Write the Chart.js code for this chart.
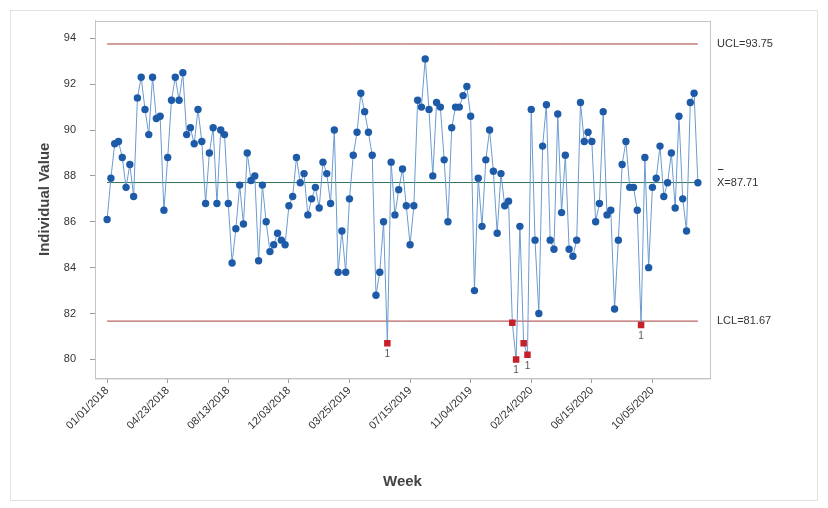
<!DOCTYPE html>
<html>
<head>
<meta charset="utf-8">
<script src="https://cdn.jsdelivr.net/npm/chart.js@4.4.1/dist/chart.umd.min.js"></script>
<style>
  html, body { margin: 0; padding: 0; background: #fff; }
  #wrap { width: 828px; height: 508px; }
</style>
</head>
<body>
<div id="wrap"><canvas id="myChart" width="828" height="508"></canvas></div>
<script>
// weekly individual values, week 0 = 01/01/2018
var weekValues = [
  86.1, 87.9, 89.4, 89.5, 88.8, 87.5, 88.5, 87.1, 91.4, 92.3,
  90.9, 89.8, 92.3, 90.5, 90.6, 86.5, 88.8, 91.3, 92.3, 91.3,
  92.5, 89.8, 90.1, 89.4, 90.9, 89.5, 86.8, 89.0, 90.1, 86.8,
  90.0, 89.8, 86.8, 84.2, 85.7, 87.6, 85.9, 89.0, 87.8, 88.0,
  84.3, 87.6, 86.0, 84.7, 85.0, 85.5, 85.2, 85.0, 86.7, 87.1,
  88.8, 87.7, 88.1, 86.3, 87.0, 87.5, 86.6, 88.6, 88.1, 86.8,
  90.0, 83.8, 85.6, 83.8, 87.0, 88.9, 89.9, 91.6, 90.8, 89.9,
  88.9, 82.8, 83.8, 86.0, 80.7, 88.6, 86.3, 87.4, 88.3, 86.7,
  85.0, 86.7, 91.3, 91.0, 93.1, 90.9, 88.0, 91.2, 91.0, 88.7,
  86.0, 90.1, 91.0, 91.0, 91.5, 91.9, 90.6, 83.0, 87.9, 85.8,
  88.7, 90.0, 88.2, 85.5, 88.1, 86.7, 86.9, 81.6, 80.0, 85.8,
  80.7, 80.2, 90.9, 85.2, 82.0, 89.3, 91.1, 85.2, 84.8, 90.7,
  86.4, 88.9, 84.8, 84.5, 85.2, 91.2, 89.5, 89.9, 89.5, 86.0,
  86.8, 90.8, 86.3, 86.5, 82.2, 85.2, 88.5, 89.5, 87.5, 87.5,
  86.5, 81.5, 88.8, 84.0, 87.5, 87.9, 89.3, 87.1, 87.7, 89.0,
  86.6, 90.6, 87.0, 85.6, 91.2, 91.6, 87.7
];

var ucl = 93.75;
var centerLine = 87.71;
var lcl = 81.67;

var tickWeeks = [0, 16, 32, 48, 64, 80, 96, 112, 128, 144];
var tickLabels = ['01/01/2018', '04/23/2018', '08/13/2018', '12/03/2018', '03/25/2019',
                  '07/15/2019', '11/04/2019', '02/24/2020', '06/15/2020', '10/05/2020'];
var yTicks = [80, 82, 84, 86, 88, 90, 92, 94];

// points that carry the test "1" marker
var flaggedWeeks = [74, 108, 111, 141];

var lastWeek = weekValues.length - 1;
var points = weekValues.map(function (v, i) { return { x: i, y: v }; });

function outOfLimits(v) { return v > ucl || v < lcl; }

var FONT = "'Liberation Sans', Arial, sans-serif";

var framePlugin = {
  id: 'frame',
  beforeDraw: function (chart) {
    var c = chart.ctx;
    c.save();
    c.strokeStyle = '#e2e2e2';
    c.lineWidth = 1;
    c.strokeRect(10.5, 10.5, 807, 490);
    c.restore();
  },
  beforeDatasetsDraw: function (chart) {
    var a = chart.chartArea, c = chart.ctx;
    c.save();
    c.strokeStyle = '#c4c4c4';
    c.lineWidth = 1;
    c.strokeRect(Math.round(a.left) + 0.5, Math.round(a.top) + 0.5, a.right - a.left, a.bottom - a.top);
    c.restore();
  },
  afterDatasetsDraw: function (chart) {
    var c = chart.ctx, a = chart.chartArea, ys = chart.scales.y;
    var meta = chart.getDatasetMeta(0);
    c.save();
    c.fillStyle = '#555';
    c.font = '10px ' + FONT;
    c.textAlign = 'center';
    c.textBaseline = 'top';
    flaggedWeeks.forEach(function (w) {
      var p = meta.data[w];
      c.fillText('1', p.x, p.y + 6);
    });

    // limit labels on the right
    c.fillStyle = '#333';
    c.font = '11px ' + FONT;
    c.textAlign = 'left';
    c.textBaseline = 'middle';
    var lx = a.right + 7;
    c.fillText('UCL=' + ucl.toFixed(2), lx, ys.getPixelForValue(ucl));
    var cy = ys.getPixelForValue(centerLine);
    c.fillText('X=' + centerLine.toFixed(2), lx, cy);
    var xw = c.measureText('X').width;
    c.strokeStyle = '#333';
    c.lineWidth = 1;
    c.beginPath();
    c.moveTo(lx + 1, Math.round(cy - 14) + 0.5);
    c.lineTo(lx + xw - 1, Math.round(cy - 14) + 0.5);
    c.stroke();
    c.fillText('LCL=' + lcl.toFixed(2), lx, ys.getPixelForValue(lcl));
    c.restore();
  }
};

var ctx = document.getElementById('myChart').getContext('2d');
var chart = new Chart(ctx, {
  type: 'line',
  data: {
    datasets: [{
      label: 'Individual Value',
      data: points,
      borderColor: '#6b9bd0',
      borderWidth: 1,
      pointRadius: function (c) { return outOfLimits(c.raw.y) ? 4.6 : 3.7; },
      pointBorderWidth: 0,
      pointStyle: function (c) { return outOfLimits(c.raw.y) ? 'rect' : 'circle'; },
      pointBackgroundColor: function (c) { return outOfLimits(c.raw.y) ? '#c8202a' : '#1d5aa8'; },
      tension: 0
    }, {
      label: 'UCL',
      data: [{ x: 0, y: ucl }, { x: lastWeek, y: ucl }],
      borderColor: '#a83a3a',
      borderWidth: 1,
      pointRadius: 0
    }, {
      label: 'Center',
      data: [{ x: 0, y: centerLine }, { x: lastWeek, y: centerLine }],
      borderColor: '#2f7258',
      borderWidth: 1,
      pointRadius: 0
    }, {
      label: 'LCL',
      data: [{ x: 0, y: lcl }, { x: lastWeek, y: lcl }],
      borderColor: '#a83a3a',
      borderWidth: 1,
      pointRadius: 0
    }]
  },
  options: {
    responsive: false,
    animation: false,
    layout: { padding: { left: 10, right: 118, top: 15, bottom: 10 } },
    plugins: {
      legend: { display: false },
      tooltip: { enabled: false }
    },
    scales: {
      x: {
        type: 'linear',
        min: -3.2,
        max: lastWeek + 3.2,
        afterBuildTicks: function (s) { s.ticks = tickWeeks.map(function (v) { return { value: v }; }); },
        afterFit: function (s) { s.height = 120; },
        grid: { drawOnChartArea: false, tickLength: 5, color: '#9c9c9c' },
        border: { color: '#c4c4c4' },
        ticks: {
          autoSkip: false,
          minRotation: 45,
          maxRotation: 45,
          padding: 1,
          color: '#333',
          font: { size: 11, family: FONT },
          callback: function (v) { return tickLabels[tickWeeks.indexOf(v)]; }
        },
        title: {
          display: true,
          text: 'Week',
          color: '#444',
          font: { size: 15, weight: 'bold', family: FONT },
          padding: { top: 0, bottom: 7 }
        }
      },
      y: {
        min: 79.19,
        max: 94.77,
        afterBuildTicks: function (s) { s.ticks = yTicks.map(function (v) { return { value: v }; }); },
        afterFit: function (s) { s.width = 85; },
        grid: { drawOnChartArea: false, tickLength: 5, color: '#9c9c9c' },
        border: { color: '#c4c4c4' },
        ticks: {
          padding: 14,
          color: '#333',
          font: { size: 11, family: FONT }
        },
        title: {
          display: true,
          text: 'Individual Value',
          color: '#444',
          font: { size: 15, weight: 'bold', family: FONT },
          padding: { top: 26, bottom: 0 }
        }
      }
    }
  },
  plugins: [framePlugin]
});
</script>
</body>
</html>
